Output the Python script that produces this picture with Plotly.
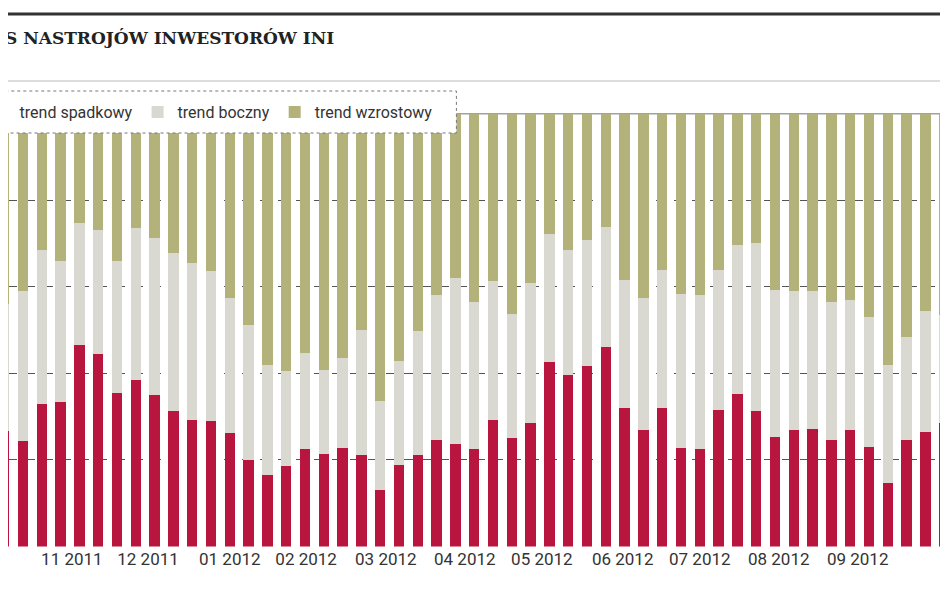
import plotly.graph_objects as go

spadkowy = [26.6, 24.3, 32.8, 33.4, 46.6, 44.5, 35.4, 38.5, 35.1, 31.2, 29.3, 28.9, 26.2, 20.0, 16.6, 18.7,
            22.5, 21.4, 22.7, 21.2, 13.1, 18.9, 21.1, 24.7, 23.7, 22.5, 29.3, 25.1, 28.5, 42.6, 39.7, 41.8,
            46.0, 32.1, 27.0, 32.1, 22.7, 22.5, 31.6, 35.2, 31.4, 25.4, 27.0, 27.2, 24.7, 26.8, 22.9, 14.7,
            24.7, 26.4, 28.5]
boczny = [29.3, 34.6, 35.8, 32.5, 28.1, 28.7, 30.5, 35.1, 36.1, 36.6, 36.2, 34.8, 31.3, 31.2, 25.4, 21.8,
          22.2, 19.4, 20.8, 28.9, 20.4, 23.9, 28.6, 33.3, 38.3, 34.0, 32.1, 28.6, 32.4, 29.6, 28.9, 29.1,
          27.7, 29.5, 30.5, 31.8, 35.6, 35.7, 32.3, 34.4, 38.7, 33.9, 32.1, 31.9, 31.8, 30.2, 30.0, 27.3,
          23.6, 27.9, 25.0]
wzrostowy = [44.1, 41.1, 31.4, 34.1, 25.3, 26.8, 34.1, 26.4, 28.8, 32.2, 34.5, 36.3, 42.5, 48.8, 58.0, 59.5,
             55.3, 59.2, 56.5, 49.9, 66.5, 57.2, 50.3, 42.0, 38.0, 43.5, 38.6, 46.3, 39.1, 27.8, 31.4, 29.1,
             26.3, 38.4, 42.5, 36.1, 41.7, 41.8, 36.1, 30.4, 29.9, 40.7, 40.9, 40.9, 43.5, 43.0, 47.1, 58.0,
             51.7, 45.7, 46.5]
weeks = list(range(len(spadkowy)))
tick_pos = [-0.5, 3.6, 7.65, 12.0, 16.06, 20.3, 24.5, 28.6, 32.9, 37.0, 41.2, 45.4, 49.6]
tick_text = ["10 2011", "11 2011", "12 2011", "01 2012", "02 2012", "03 2012", "04 2012",
             "05 2012", "06 2012", "07 2012", "08 2012", "09 2012", "10 2012"]

FONT = "Liberation Sans Narrow, Roboto, sans-serif"
fig = go.Figure()
for name, vals, col in [("trend spadkowy", spadkowy, "#b8163f"),
                        ("trend boczny", boczny, "#d9d9d1"),
                        ("trend wzrostowy", wzrostowy, "#b3b27b")]:
    fig.add_bar(x=weeks, y=vals, name=name, marker=dict(color=col, line=dict(width=0)), width=0.55)

fig.update_layout(
    barmode="stack", width=948, height=593,
    margin=dict(l=0, r=0, t=0, b=0, autoexpand=False),
    plot_bgcolor="white", paper_bgcolor="white", bargap=0.45,
    showlegend=True,
    legend=dict(orientation="h", x=-0.03, y=1 - 104/593, xanchor="left", yanchor="middle",
                bgcolor="rgba(0,0,0,0)", font=dict(family=FONT, size=16, color="#333"),
                traceorder="normal", itemwidth=30),
    xaxis=dict(range=[0.202, 50.63], showgrid=False, zeroline=False, showline=False,
               tickmode="array", tickvals=tick_pos, ticktext=tick_text, ticks="",
               tickfont=dict(family=FONT, size=17, color="#333")),
    yaxis=dict(range=[0, 100], domain=[0.0919, 0.822], showticklabels=False, ticks="",
               zeroline=False, showline=False, tickvals=[20, 40, 60, 80],
               gridcolor="#555", griddash="dash", gridwidth=1),
    shapes=[
        dict(type="line", xref="paper", yref="y", x0=0, x1=1, y0=100, y1=100,
             line=dict(color="#444", width=1.5), layer="below"),
        dict(type="rect", xref="paper", yref="paper", x0=-0.01, x1=0.473, y0=1 - 125/593, y1=1 - 83/593,
             fillcolor="white", line=dict(color="#777", width=1, dash="dot"), layer="above"),
        dict(type="line", xref="paper", yref="paper", x0=0, x1=1, y0=1 - 6/593, y1=1 - 6/593,
             line=dict(color="#333", width=3)),
        dict(type="line", xref="paper", yref="paper", x0=0, x1=1, y0=1 - 73/593, y1=1 - 73/593,
             line=dict(color="#bbb", width=1)),
    ],
    annotations=[dict(text="<b>S NASTROJÓW INWESTORÓW INI</b>", xref="paper", yref="paper",
                      x=-0.005, y=1 - 30/593, xanchor="left", yanchor="middle", showarrow=False,
                      font=dict(family="DejaVu Serif, serif", size=17, color="#222"))],
)
fig.write_html("out.html")
